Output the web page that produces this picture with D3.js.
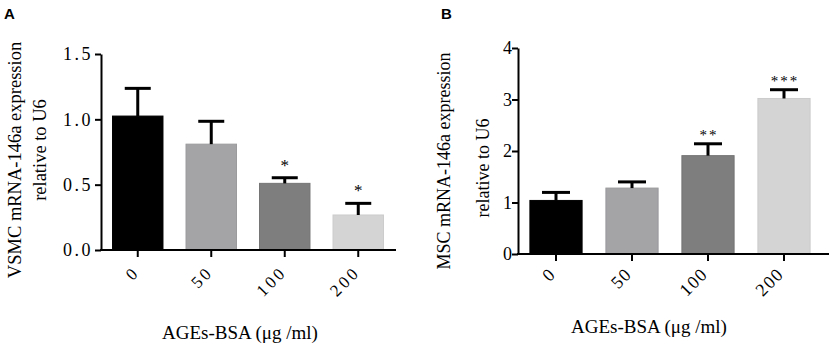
<html>
<head>
<style>
  body { margin: 0; background: #fff; }
  text { font-family: "Liberation Serif", "DejaVu Serif", serif; fill: #000; }
  .panel-label { font-family: "Liberation Sans", Arial, sans-serif; font-weight: bold; font-size: 15px; }
  .axis path, .axis line { stroke: #000; stroke-width: 2px; }
</style>
</head>
<body>
<script src="https://cdn.jsdelivr.net/npm/d3@7"></script>
<script>
// doses on the x axis (shared by both panels)
var doses = ["0", "50", "100", "200"];
var barColors = ["#000000", "#a4a4a7", "#7e7e7e", "#d4d4d4"];
var barEdges = ["#000000", "#9a9a9d", "#747474", "#cbcbcb"];

// panel A: VSMC
var vsmcMean = [1.025, 0.81, 0.51, 0.268];
var vsmcSem = [0.212, 0.175, 0.043, 0.089];
var vsmcSig = ["", "", "*", "*"];
var vsmcTicks = [0, 0.5, 1.0, 1.5];

// panel B: MSC
var mscMean = [1.04, 1.28, 1.91, 3.02];
var mscSem = [0.156, 0.12, 0.23, 0.17];
var mscSig = ["", "", "**", "***"];
var mscTicks = [0, 1, 2, 3, 4];

var svg = d3.select("body").append("svg")
    .attr("width", 829)
    .attr("height", 346);

function drawPanel(cfg) {
  var x = d3.scaleBand().domain(doses).range([cfg.left, cfg.right])
      .paddingInner(0.3).paddingOuter(0.15);
  var y = d3.scaleLinear().domain([0, cfg.ticks[cfg.ticks.length - 1]]).range([cfg.bottom, cfg.top]);

  var g = svg.append("g");

  // bars
  g.selectAll("rect.bar").data(cfg.mean).enter().append("rect")
      .attr("class", "bar")
      .attr("x", function(d, i){ return x(doses[i]) + 0.5; })
      .attr("width", x.bandwidth() - 1)
      .attr("y", function(d){ return y(d); })
      .attr("height", function(d){ return y(0) - y(d); })
      .attr("fill", function(d, i){ return barColors[i]; })
      .attr("stroke", function(d, i){ return barEdges[i]; })
      .attr("stroke-width", 1);

  // error bars (upper only)
  var eb = g.selectAll("g.err").data(cfg.mean).enter().append("g").attr("class", "err");
  eb.append("line")
      .attr("x1", function(d, i){ return x(doses[i]) + x.bandwidth() / 2; })
      .attr("x2", function(d, i){ return x(doses[i]) + x.bandwidth() / 2; })
      .attr("y1", function(d){ return y(d); })
      .attr("y2", function(d, i){ return y(d + cfg.sem[i]); })
      .attr("stroke", "#000").attr("stroke-width", 3);
  eb.append("line")
      .attr("x1", function(d, i){ return x(doses[i]) + x.bandwidth() / 2 - cfg.cap; })
      .attr("x2", function(d, i){ return x(doses[i]) + x.bandwidth() / 2 + cfg.cap; })
      .attr("y1", function(d, i){ return y(d + cfg.sem[i]); })
      .attr("y2", function(d, i){ return y(d + cfg.sem[i]); })
      .attr("stroke", "#000").attr("stroke-width", 3);

  // significance stars
  g.selectAll("text.sig").data(cfg.sig).enter().append("text")
      .attr("class", "sig")
      .attr("x", function(d, i){ return x(doses[i]) + x.bandwidth() / 2 + cfg.starSpace / 2; })
      .attr("y", function(d, i){ return y(cfg.mean[i] + cfg.sem[i]) - cfg.starGap; })
      .attr("text-anchor", "middle")
      .style("font-size", cfg.starSize + "px")
      .style("letter-spacing", cfg.starSpace + "px")
      .text(function(d){ return d; });

  // y axis
  var yAxis = d3.axisLeft(y).tickValues(cfg.ticks).tickSize(6).tickPadding(cfg.tickPad)
      .tickFormat(cfg.fmt).tickSizeOuter(0);
  var ya = g.append("g").attr("class", "axis")
      .attr("transform", "translate(" + cfg.left + ",0)")
      .call(yAxis);
  ya.selectAll("text")
      .style("font-size", cfg.yTickSize + "px")
      .style("letter-spacing", cfg.yTickSpace + "px");

  // x axis
  var xAxis = d3.axisBottom(x).tickSize(7).tickSizeOuter(0).tickFormat("");
  var xa = g.append("g").attr("class", "axis")
      .attr("transform", "translate(0," + cfg.bottom + ")")
      .call(xAxis);
  xa.select(".domain").remove();
  xa.append("line").attr("x1", cfg.left - 1).attr("x2", cfg.axisEnd).attr("y1", 0).attr("y2", 0);

  // rotated x tick labels
  g.selectAll("text.xlab").data(doses).enter().append("text")
      .attr("class", "xlab")
      .attr("text-anchor", "end")
      .attr("transform", function(d){
        return "translate(" + (x(d) + x.bandwidth() / 2 + cfg.xlabDx) + "," + (cfg.bottom + cfg.xlabDy) + ") rotate(-45)";
      })
      .style("font-size", cfg.xTickSize + "px")
      .style("letter-spacing", cfg.xTickSpace + "px")
      .text(function(d){ return d; });

  // y title (two lines)
  cfg.yTitle.forEach(function(t, i){
    g.append("text")
        .attr("text-anchor", "middle")
        .attr("transform", "translate(" + cfg.yTitleX[i] + "," + cfg.yTitleY[i] + ") rotate(-90)")
        .style("font-size", cfg.yTitleSize + "px")
        .text(t);
  });

  // x title
  g.append("text")
      .attr("x", cfg.xTitleX).attr("y", cfg.xTitleY)
      .attr("text-anchor", "middle")
      .style("font-size", "19px")
      .text("AGEs-BSA (\u03bcg /ml)");

  // panel letter
  g.append("text").attr("class", "panel-label")
      .attr("x", cfg.labelX).attr("y", 19)
      .text(cfg.label);
}

drawPanel({
  label: "A", labelX: 4,
  left: 101, right: 395, top: 54, bottom: 250, axisEnd: 396,
  mean: vsmcMean, sem: vsmcSem, sig: vsmcSig, ticks: vsmcTicks,
  fmt: d3.format(".1f"), tickPad: 2, yTickSize: 18, yTickSpace: 2.5,
  cap: 13, starSize: 17, starSpace: 0, starGap: 7,
  xTickSize: 17, xTickSpace: 3, xlabDx: 3, xlabDy: 23,
  yTitle: ["VSMC mRNA-146a expression", "relative to U6"],
  yTitleX: [21, 46], yTitleY: [160, 150], yTitleSize: 18.5,
  xTitleX: 240, xTitleY: 339
});

drawPanel({
  label: "B", labelX: 441,
  left: 518, right: 822, top: 48, bottom: 254, axisEnd: 829,
  mean: mscMean, sem: mscSem, sig: mscSig, ticks: mscTicks,
  fmt: d3.format("d"), tickPad: 0, yTickSize: 18, yTickSpace: 0,
  cap: 14, starSize: 15, starSpace: 2, starGap: 4,
  xTickSize: 18, xTickSpace: 1.5, xlabDx: 1, xlabDy: 21,
  yTitle: ["MSC mRNA-146a expression", "relative to U6"],
  yTitleX: [450, 489], yTitleY: [161, 168], yTitleSize: 18,
  xTitleX: 649, xTitleY: 333
});
</script>
</body>
</html>
